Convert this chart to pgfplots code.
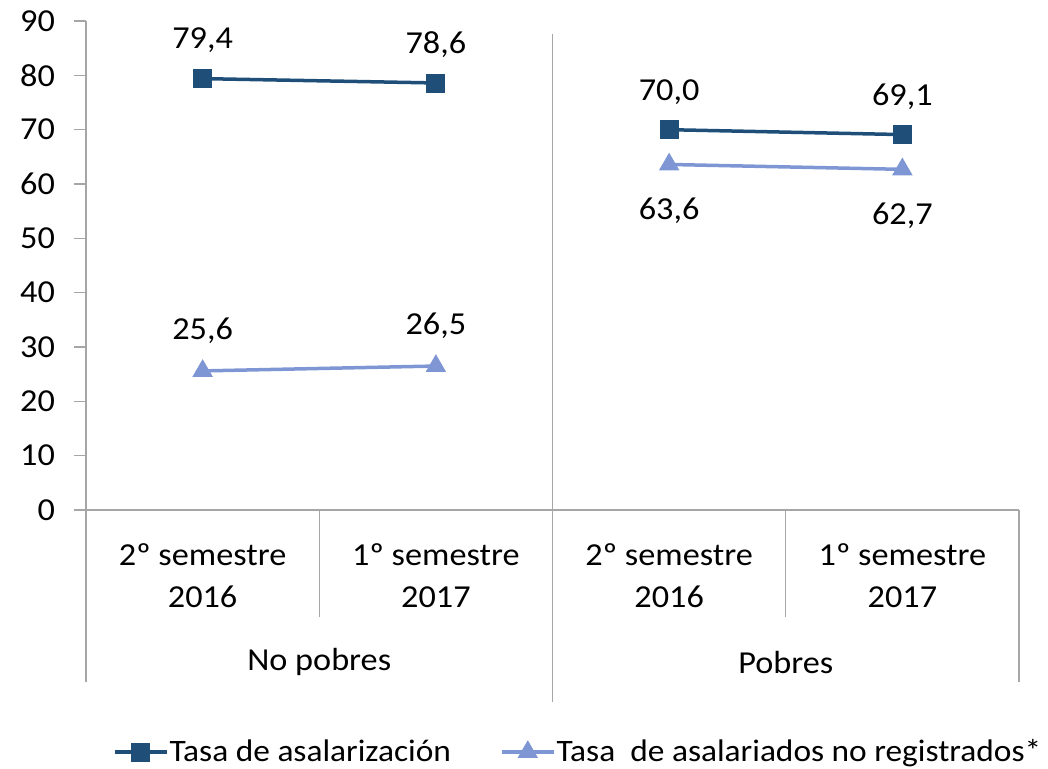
\documentclass[border=0pt]{standalone}
\usepackage{pgfplots}
\pgfplotsset{compat=1.18}
\usetikzlibrary{calc}
\usepackage{fontspec}
\setmainfont[FakeStretch=1.07]{Carlito}
\definecolor{darkb}{RGB}{31,78,121}
\definecolor{lightb}{RGB}{127,150,212}
\definecolor{axg}{RGB}{166,166,166}
\newcommand\lbl{\fontsize{16}{21}\selectfont}
\newcommand\lgd{\fontsize{15.6}{21}\selectfont}
\begin{document}
\begin{tikzpicture}
\begin{axis}[
  at={(43pt,129pt)}, anchor=south west,
  scale only axis, width=466.5pt, height=244.5pt,
  xmin=0, xmax=4, ymin=0, ymax=90,
  axis x line=bottom, axis y line=left,
  axis line style={draw=axg, line width=0.6pt, -},
  ytick={0,10,...,90}, xtick=\empty,
  tick align=outside, major tick length=6pt,
  tick style={draw=axg, line width=0.6pt},
  yticklabel style={font=\lbl, text=black, xshift=-6pt},
  /pgf/number format/assume math mode=true,
  clip=false,
  legend style={at={(0.527,-0.495)}, anchor=center, draw=none, fill=none,
    font=\lgd, legend columns=2, nodes={inner xsep=0.5pt},
    /tikz/every even column/.append style={column sep=24pt}},
  legend cell align=left,
  legend image code/.code={\draw[mark repeat=2,mark phase=2] plot coordinates {(0pt,0pt)(13pt,0pt)(26pt,0pt)};},
  nodes near coords={\pgfmathprintnumber[fixed,fixed zerofill,precision=1,use comma]{\pgfplotspointmeta}},
]
% Tasa de asalarizacion - No pobres
\addplot[darkb, line width=1.75pt, mark=square*, mark size=4.5pt, mark options={line width=0.4pt},
  nodes near coords style={font=\lbl, text=black, anchor=center, yshift=19pt}]
  coordinates {(0.5,79.4) (1.5,78.6)};
\addlegendentry{Tasa de asalarización}
% Tasa de asalariados no registrados - No pobres
\addplot[lightb, line width=1.75pt, mark=triangle*, mark size=5.5pt, mark options={line width=0.4pt},
  nodes near coords style={font=\lbl, text=black, anchor=center, yshift=20pt}]
  coordinates {(0.5,25.6) (1.5,26.5)};
\addlegendentry{Tasa~ de asalariados no registrados*}
% Pobres
\addplot[darkb, line width=1.75pt, mark=square*, mark size=4.5pt, mark options={line width=0.4pt}, forget plot,
  nodes near coords style={font=\lbl, text=black, anchor=center, yshift=19pt}]
  coordinates {(2.5,70.0) (3.5,69.1)};
\addplot[lightb, line width=1.75pt, mark=triangle*, mark size=5.5pt, mark options={line width=0.4pt}, forget plot,
  nodes near coords style={font=\lbl, text=black, anchor=center, yshift=-23pt}]
  coordinates {(2.5,63.6) (3.5,62.7)};
% separators
\draw[axg, line width=0.6pt] (axis cs:1,0) -- ++(0,-53.5pt);
\draw[axg, line width=0.6pt] (axis cs:3,0) -- ++(0,-53.5pt);
\draw[axg, line width=0.6pt] (axis cs:0,0) -- ++(0,-86pt);
\draw[axg, line width=0.6pt] (axis cs:4,0) -- ++(0,-86pt);
\draw[axg, line width=0.6pt] (axis cs:2,87.6) -- (axis cs:2,0) -- ++(0,-96pt);
% category labels
\node[font=\lbl, align=center, anchor=center] at ($(axis cs:0.5,0)+(0,-33pt)$) {2º semestre\\2016};
\node[font=\lbl, align=center, anchor=center] at ($(axis cs:1.5,0)+(0,-33pt)$) {1º semestre\\2017};
\node[font=\lbl, align=center, anchor=center] at ($(axis cs:2.5,0)+(0,-33pt)$) {2º semestre\\2016};
\node[font=\lbl, align=center, anchor=center] at ($(axis cs:3.5,0)+(0,-33pt)$) {1º semestre\\2017};
\node[font=\lbl, anchor=center] at ($(axis cs:1,0)+(0,-76pt)$) {No pobres};
\node[font=\lbl, anchor=center] at ($(axis cs:3,0)+(0,-76pt)$) {Pobres};
\end{axis}
\pgfresetboundingbox
\path (0,0) rectangle (524pt,384pt);
\end{tikzpicture}
\end{document}
